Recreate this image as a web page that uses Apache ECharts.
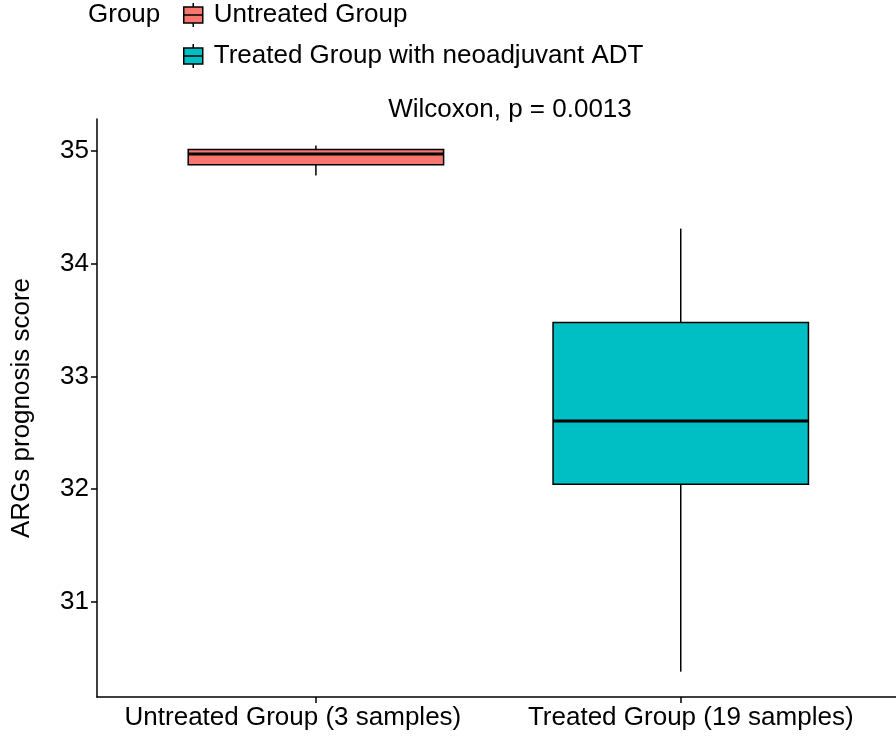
<!DOCTYPE html>
<html>
<head>
<meta charset="utf-8">
<script src="https://cdn.jsdelivr.net/npm/echarts@6/dist/echarts.min.js"></script>
<style>html,body{margin:0;padding:0;background:#fff}#chart{width:896px;height:738px}</style>
</head>
<body>
<div id="chart"></div>
<script>
// ---- data ----
const categories = ['Untreated Group (3 samples)', 'Treated Group (19 samples)'];
const groupNames = ['Untreated Group', 'Treated Group with neoadjuvant ADT'];
// [min, Q1, median, Q3, max]
const untreatedStats = [34.782, 34.877, 34.973, 35.013, 35.049];
const treatedStats = [30.382, 32.044, 32.604, 33.478, 34.311];
const yTicks = [31, 32, 33, 34, 35];
const yRange = [30.157, 35.283];
const annotation = 'Wilcoxon, p = 0.0013';
const legendTitle = 'Group';
const yAxisTitle = 'ARGs prognosis score';

const FONT = "'Liberation Sans', Arial, sans-serif";
const colors = ['#F8766D', '#00BFC4'];
const boxWidthUnits = 0.70;

function renderBox(params, api) {
  const x = api.value(0);
  const lo = api.coord([x, api.value(1)]);
  const q1 = api.coord([x, api.value(2)]);
  const med = api.coord([x, api.value(3)]);
  const q3 = api.coord([x, api.value(4)]);
  const hi = api.coord([x, api.value(5)]);
  const hw = api.size([boxWidthUnits, 0])[0] / 2;
  const fill = api.visual('color');
  const lineStyle = { stroke: '#000', lineWidth: 1.5 };
  return {
    type: 'group',
    children: [
      { type: 'line', shape: { x1: hi[0], y1: hi[1], x2: q3[0], y2: q3[1] }, style: lineStyle },
      { type: 'line', shape: { x1: q1[0], y1: q1[1], x2: lo[0], y2: lo[1] }, style: lineStyle },
      { type: 'rect', shape: { x: q3[0] - hw, y: q3[1], width: 2 * hw, height: q1[1] - q3[1] },
        style: { fill: fill, stroke: '#000', lineWidth: 1.5 } },
      { type: 'line', shape: { x1: med[0] - hw, y1: med[1], x2: med[0] + hw, y2: med[1] },
        style: { stroke: '#000', lineWidth: 3 } }
    ]
  };
}

const allStats = [untreatedStats, treatedStats];
const series = groupNames.map((name, i) => ({
  name: name,
  type: 'custom',
  renderItem: renderBox,
  itemStyle: { color: colors[i], borderColor: '#000' },
  encode: { x: 0, y: [1, 2, 3, 4, 5] },
  data: [[i + 1].concat(allStats[i])],
  silent: true
}));

const labelRich = {
  l0: { fontSize: 26, color: '#000', fontFamily: FONT, padding: [0, 46, 0, 0] },
  l1: { fontSize: 26, color: '#000', fontFamily: FONT, padding: [0, 0, 0, 20] }
};

const chart = echarts.init(document.getElementById('chart'));
chart.setOption({
  animation: false,
  backgroundColor: '#fff',
  textStyle: { fontFamily: FONT },
  grid: { left: 97, right: 0, top: 119, bottom: 41, containLabel: false, outerBoundsMode: 'none' },
  legend: {
    orient: 'vertical',
    left: 178,
    top: -3,
    itemWidth: 19,
    itemHeight: 24,
    itemGap: 15,
    icon: 'path://M0,4H19V20H0Z M0,12H19 M9.5,0V4 M9.5,20V24',
    itemStyle: { borderColor: '#000', borderWidth: 1.5 },
    textStyle: { fontSize: 26, color: '#000', fontFamily: FONT, lineHeight: 26, padding: [0, 0, 0, 6] },
    data: groupNames
  },
  graphic: [
    { type: 'text', left: 88, top: 2, style: { text: legendTitle, font: '26px ' + FONT, fill: '#000' } },
    { type: 'text', x: 510, y: 110, style: { text: annotation, font: '26px ' + FONT, fill: '#000', align: 'center', verticalAlign: 'middle' } }
  ],
  xAxis: {
    type: 'value',
    min: 0.4,
    max: 2.59,
    splitLine: { show: false },
    axisLine: { show: true, onZero: false, lineStyle: { color: '#000', width: 1.5 } },
    axisTick: { show: true, customValues: [1, 2], length: 6, lineStyle: { color: '#000', width: 1.5 } },
    axisLabel: {
      customValues: [1, 2],
      formatter: v => { const i = Math.round(v) - 1; return '{l' + i + '|' + categories[i] + '}'; },
      rich: labelRich,
      fontSize: 26, color: '#000', fontFamily: FONT, margin: 8
    }
  },
  yAxis: {
    type: 'value',
    min: yRange[0],
    max: yRange[1],
    name: yAxisTitle,
    nameLocation: 'middle',
    nameRotate: 90,
    nameGap: 62,
    nameTextStyle: { fontSize: 26, color: '#000', fontFamily: FONT },
    splitLine: { show: false },
    axisLine: { show: true, onZero: false, lineStyle: { color: '#000', width: 1.5 } },
    axisTick: { show: true, customValues: yTicks, length: 6, lineStyle: { color: '#000', width: 1.5 } },
    axisLabel: { customValues: yTicks, fontSize: 26, color: '#000', fontFamily: FONT, margin: 8 }
  },
  series: series
});
</script>
</body>
</html>
